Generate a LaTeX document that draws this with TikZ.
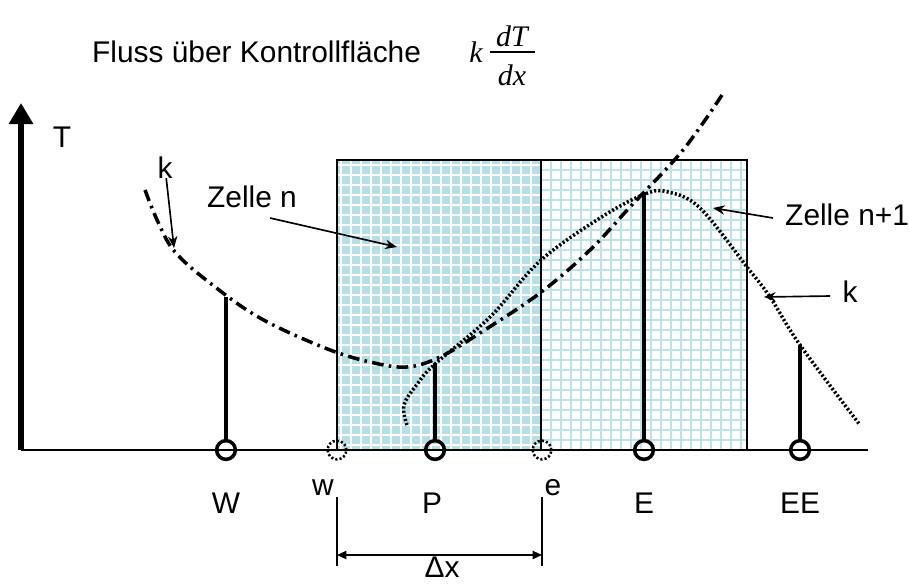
\documentclass[tikz,border=0pt]{standalone}
\usepackage{fontspec}
\setmainfont{Liberation Sans}
\newfontfamily\eqfont{Liberation Serif}
\usetikzlibrary{arrows.meta,positioning}
\definecolor{cellfill}{RGB}{182,224,229}
\definecolor{gridline}{RGB}{188,227,231}

\begin{document}
\begin{tikzpicture}[x=0.03cm, y=-0.03cm, >=Stealth,
  lbl/.style={font=\fontsize{25.5pt}{30pt}\selectfont, inner sep=0pt, anchor=base},
  eq/.style={font=\fontsize{25.5pt}{30pt}\eqfont\itshape, inner sep=0pt, anchor=base},
  knot/.style={draw, circle, line width=3pt, minimum size=16pt, inner sep=0pt},
  face/.style={draw, circle, line width=2.2pt, dash pattern=on 1.8pt off 1.8pt, minimum size=16pt, inner sep=0pt},
  stem/.style={line width=3.8pt},
  pointer/.style={->, line width=1.4pt, >={Stealth[length=10pt,width=8pt]}},
  kcurve/.style={line width=3pt, dash pattern=on 10pt off 4.5pt on 2.2pt off 4.5pt},
  tcurve/.style={line width=3pt, dash pattern=on 1.8pt off 1.8pt}]
  \useasboundingbox (0,0) rectangle (909,584);

  % control volumes
  \fill[cellfill] (337,160) rectangle (541,450);
  \foreach \x in {341,351,...,531} \draw[white, line width=1.8pt] (\x,160) -- (\x,450);
  \foreach \y in {165,175,...,445} \draw[white, line width=1.4pt] (337,\y) -- (541,\y);
  \foreach \x in {551,561,...,741} \draw[gridline, line width=1.5pt] (\x,160) -- (\x,450);
  \foreach \y in {170,180,...,440} \draw[gridline, line width=1.5pt] (541,\y) -- (747,\y);
  \draw[line width=1.3pt] (337,160) rectangle (541,450);
  \draw[line width=1.3pt] (541,160) rectangle (747,450);

  % axes
  \coordinate (O) at (21,450);
  \coordinate (Ttop) at (21,103);
  \coordinate (Xend) at (868,450);
  \draw[line width=2pt] (O) -- (Xend);
  \draw[line width=4.4pt, -{Triangle[width=20pt,length=18pt]}] (O) -- (Ttop);
  \node[lbl] (lT) at (62,147) {T};

  % grid points and faces
  \node[knot] (W) at (226,450) {};
  \node[knot] (P) at (435,450) {};
  \node[knot] (E) at (644,450) {};
  \node[knot] (EE) at (800,450) {};
  \node[face] (w) at (337,450) {};
  \node[face] (e) at (542,450) {};
  \coordinate (Wt) at (226,297);
  \coordinate (Pt) at (435,363);
  \coordinate (Et) at (644,192);
  \coordinate (EEt) at (800,345);
  \draw[stem] (W) -- (Wt);
  \draw[stem] (P) -- (Pt);
  \draw[stem] (E) -- (Et);
  \draw[stem] (EE) -- (EEt);

  \node[lbl] (lW) at (226,513) {W};
  \node[lbl] (lP) at (432,513) {P};
  \node[lbl] (lE) at (644,513) {E};
  \node[lbl] (lEE) at (800,513) {EE};
  \node[lbl] (lw) at (323,495) {w};
  \node[lbl] (le) at (553,495) {e};

  % curves
  \draw[kcurve] plot[smooth, tension=0.6] coordinates {(145,190) (158,222) (175,252) (210,283) (260,318) (325,348) (370,362) (407,367) (440,357) (480,333) (540,293) (590,250) (630,207) (683,150) (722,95)};
  \draw[tcurve] plot[smooth, tension=0.6] coordinates {(407,425) (404,405) (418,383) (435,364) (490,317) (540,261) (600,218) (645,194) (668,192) (700,208) (747,267) (770,297) (800,345) (860,425)};

  % labels with pointers
  \node[lbl] (lZn) at (252,207) {Zelle n};
  \node[lbl, anchor=base west] (lZn1) at (785,225) {Zelle n+1};
  \node[lbl] (lk1) at (165,178) {k};
  \node[lbl] (lk2) at (850,302) {k};
  \coordinate (zn0) at (270,218);
  \coordinate (zn1) at (397,247);
  \coordinate (zm0) at (773,218);
  \coordinate (zm1) at (713,208);
  \coordinate (ka1) at (174,248);
  \coordinate (kb0) at (830,296);
  \coordinate (kb1) at (764,297);
  \draw[pointer] (zn0) -- (zn1);
  \draw[pointer] (zm0) -- (zm1);
  \draw[pointer] (lk1) -- (ka1);
  \draw[pointer] (kb0) -- (kb1);

  % cell width
  \coordinate (dl0) at (337,497);
  \coordinate (dl1) at (337,566);
  \coordinate (dr0) at (542,497);
  \coordinate (dr1) at (542,566);
  \draw[line width=1.3pt] (dl0) -- (dl1);
  \draw[line width=1.3pt] (dr0) -- (dr1);
  \coordinate (da) at (337,555);
  \coordinate (db) at (542,555);
  \draw[line width=1.4pt, {Triangle[length=8pt,width=7pt]}-{Triangle[length=8pt,width=7pt]}] (da) -- (db);
  \node[lbl] (ldx) at (442,577) {Δx};

  % heading
  \node[lbl, anchor=base west] (head) at (92,62) {Fluss über Kontrollfläche};
  \node[eq] (fk) at (476,62) {k};
  \node[eq] (fdT) at (512,46) {dT};
  \node[eq] (fdx) at (512,85) {dx};
  \coordinate (bar0) at (490,52);
  \coordinate (bar1) at (535,52);
  \draw[line width=1.2pt] (bar0) -- (bar1);
\end{tikzpicture}
\end{document}
